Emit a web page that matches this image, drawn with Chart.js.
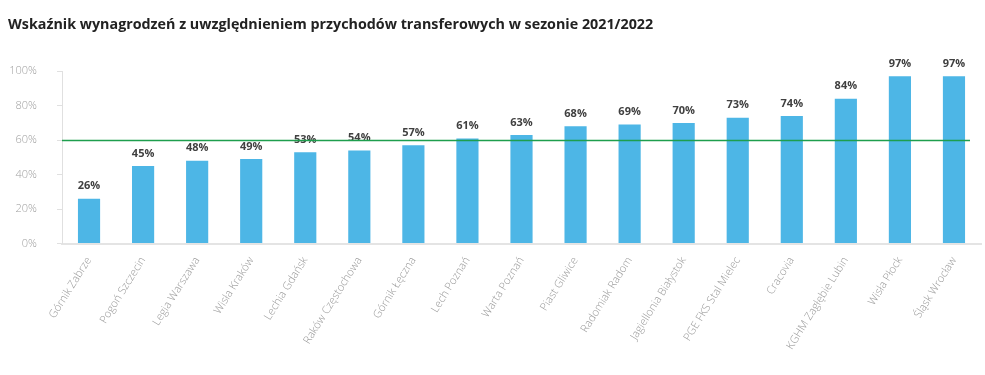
<!DOCTYPE html>
<html>
<head>
<meta charset="utf-8">
<script src="https://cdn.jsdelivr.net/npm/chart.js@4/dist/chart.umd.min.js"></script>
<style>
  html, body { margin: 0; padding: 0; background: #fff; }
  #wrap { width: 985px; height: 375px; position: relative; }
</style>
</head>
<body>
<div id="wrap"><canvas id="chart"></canvas></div>
<script>
const kluby = [
  "Górnik Zabrze", "Pogoń Szczecin", "Legia Warszawa", "Wisła Kraków",
  "Lechia Gdańsk", "Raków Częstochowa", "Górnik Łęczna", "Lech Poznań",
  "Warta Poznań", "Piast Gliwice", "Radomiak Radom", "Jagiellonia Białystok",
  "PGE FKS Stal Mielec", "Cracovia", "KGHM Zagłębie Lubin", "Wisła Płock",
  "Śląsk Wrocław"
];
const wskaznik = [26, 45, 48, 49, 53, 54, 57, 61, 63, 68, 69, 70, 73, 74, 84, 97, 97];
const progZalecany = 60;
const tytul = "Wskaźnik wynagrodzeń z uwzględnieniem przychodów transferowych w sezonie 2021/2022";

// etykiety nad słupkami
const etykiety = {
  id: "etykiety",
  afterDatasetsDraw(chart) {
    const ctx = chart.ctx;
    const meta = chart.getDatasetMeta(0);
    ctx.save();
    ctx.font = "bold 11px 'Open Sans'";
    ctx.fillStyle = "#404040";
    ctx.textAlign = "center";
    ctx.textBaseline = "bottom";
    meta.data.forEach((bar, i) => {
      ctx.fillText(wskaznik[i] + "%", bar.x, bar.y - 7);
    });
    ctx.restore();
  }
};

// zielona linia progu 60%
const linia = {
  id: "linia",
  afterDatasetsDraw(chart) {
    const { ctx, chartArea, scales } = chart;
    const y = Math.round(scales.y.getPixelForValue(progZalecany)) + 0.5;
    ctx.save();
    ctx.strokeStyle = "#1e9e4e";
    ctx.lineWidth = 1.5;
    ctx.beginPath();
    ctx.moveTo(chartArea.left, y);
    ctx.lineTo(chartArea.right - 11, y);
    ctx.stroke();
    ctx.restore();
  }
};

new Chart(document.getElementById("chart"), {
  type: "bar",
  data: {
    labels: kluby,
    datasets: [{
      data: wskaznik,
      backgroundColor: "#4db6e6",
      barPercentage: 0.41,
      categoryPercentage: 1
    }]
  },
  options: {
    responsive: true,
    maintainAspectRatio: false,
    animation: false,
    layout: { padding: { left: 8, right: 4, top: 4, bottom: 12 } },
    plugins: {
      legend: { display: false },
      tooltip: { enabled: false },
      title: {
        display: true,
        text: tytul,
        align: "start",
        color: "#222",
        font: { family: "'Open Sans'", size: 14.3, weight: "bold" },
        padding: { top: 12, bottom: 38 }
      }
    },
    scales: {
      x: {
        afterFit(scale) { scale.paddingLeft = 0; },
        grid: { display: false, drawTicks: false },
        border: { color: "#e4e4e4", width: 2 },
        ticks: {
          color: "#999",
          font: { family: "'Open Sans'", size: 11, weight: 300 },
          minRotation: 58,
          maxRotation: 58,
          autoSkip: false,
          padding: 11
        }
      },
      y: {
        min: 0,
        max: 100,
        afterFit(scale) { scale.width = 54; },
        ticks: {
          stepSize: 20,
          color: "#a0a0a0",
          padding: 20,
          font: { family: "'Open Sans'", size: 11, weight: 300 },
          callback: v => v + "%"
        },
        grid: { drawOnChartArea: false, tickLength: 5, color: "#e0e0e0" },
        border: { color: "#e0e0e0" }
      }
    }
  },
  plugins: [etykiety, linia]
});
</script>
</body>
</html>
